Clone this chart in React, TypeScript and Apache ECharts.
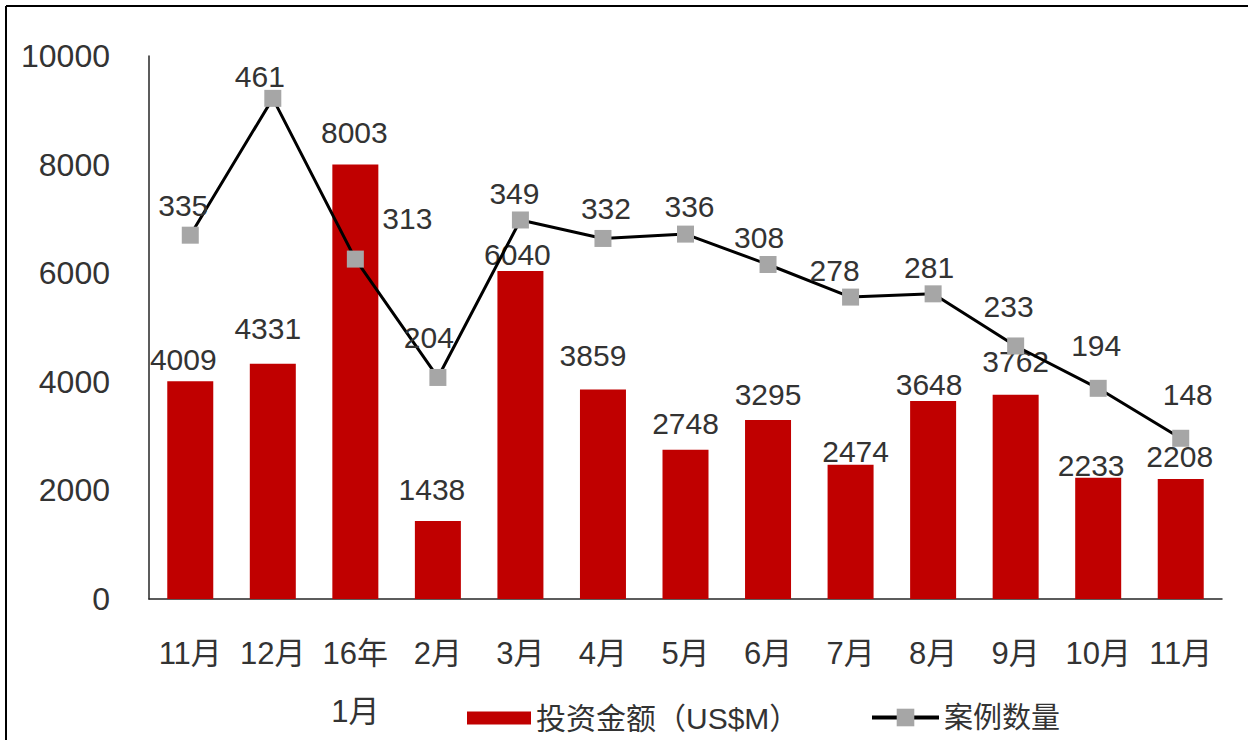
import React, { useEffect, useRef } from "react";
import * as echarts from "echarts";

const categories = ["11月", "12月", "16年\n1月", "2月", "3月", "4月", "5月", "6月", "7月", "8月", "9月", "10月", "11月"];
const investment = [4009, 4331, 8003, 1438, 6040, 3859, 2748, 3295, 2474, 3648, 3762, 2233, 2208];
const cases = [335, 461, 313, 204, 349, 332, 336, 308, 278, 281, 233, 194, 148];
const barName = "投资金额（US$M）";
const lineName = "案例数量";

// label nudges (label centre relative to bar top / marker centre), as placed in the original
const barLabelShift = [[-7, -22], [-5, -35], [-1, -32], [-6, -31], [-3, -17], [-10, -34], [0, -26], [0, -26], [5, -13], [-4, -16], [0, -33], [-7, -12], [-1, -23]];
const lineLabelShift = [[-7, -30], [-13, -22], [52, -41], [-9, -40], [-6, -27], [3, -30], [4, -28], [-9, -27], [-16, -27], [-4, -26], [-7, -39], [-2, -43], [7, -44]];

const FONT = '"Liberation Sans", Arial, "Noto Sans CJK SC", sans-serif';
const TEXT = "#333333";

export default function App() {
  const ref = useRef<HTMLDivElement>(null);
  useEffect(() => {
    const chart = echarts.init(ref.current!, null, { renderer: "svg" });
    const LABEL_FS = 30;
    const SYM = 17;
    chart.setOption({
      animation: false,
      backgroundColor: "#ffffff",
      textStyle: { fontFamily: FONT },
      grid: { left: 149, right: 26, top: 56, bottom: 139, containLabel: false },
      graphic: [
        { type: "line", shape: { x1: 6, y1: 6, x2: 1248, y2: 6 }, style: { stroke: "#000", lineWidth: 2 } },
        { type: "line", shape: { x1: 6, y1: 6, x2: 6, y2: 740 }, style: { stroke: "#000", lineWidth: 2 } },
      ],
      legend: [
        {
          data: [{ name: barName, icon: "rect" }],
          left: 462,
          top: 698,
          itemWidth: 64,
          itemHeight: 13,
          textStyle: { fontSize: 30, color: TEXT, fontFamily: FONT },
        },
        {
          data: [lineName],
          left: 865,
          top: 698,
          itemWidth: 67,
          itemHeight: 22,
          lineStyle: { width: 4, color: "#000000" },
          textStyle: { fontSize: 29, color: TEXT, fontFamily: FONT },
        },
      ],
      xAxis: {
        type: "category",
        data: categories,
        axisTick: { show: false },
        axisLine: { lineStyle: { color: "#262626", width: 1.5 } },
        axisLabel: {
          interval: 0,
          fontSize: 31,
          lineHeight: 58,
          margin: 25,
          color: TEXT,
          fontFamily: FONT,
        },
      },
      yAxis: [
        {
          type: "value",
          min: 0,
          max: 10000,
          interval: 2000,
          splitLine: { show: false },
          axisTick: { show: false },
          axisLine: { show: true, lineStyle: { color: "#262626", width: 1.5 } },
          axisLabel: {
            fontSize: 32,
            margin: 39,
            color: TEXT,
            fontFamily: FONT,
            formatter: (v: number) => String(v),
          },
        },
        {
          type: "value",
          min: 0,
          max: 500,
          show: false,
          splitLine: { show: false },
        },
      ],
      series: [
        {
          name: barName,
          type: "bar",
          yAxisIndex: 0,
          barWidth: 46,
          itemStyle: { color: "#C00000" },
          data: investment.map((v, i) => ({
            value: v,
            label: { offset: [barLabelShift[i][0], barLabelShift[i][1] + LABEL_FS / 2] },
          })),
          label: {
            show: true,
            position: "top",
            distance: 0,
            fontSize: LABEL_FS,
            color: TEXT,
            fontFamily: FONT,
          },
          z: 2,
        },
        {
          name: lineName,
          type: "line",
          yAxisIndex: 1,
          symbol: "rect",
          symbolSize: SYM,
          itemStyle: { color: "#A6A6A6" },
          lineStyle: { color: "#000000", width: 3 },
          data: cases.map((v, i) => ({
            value: v,
            label: { offset: [lineLabelShift[i][0], lineLabelShift[i][1] + SYM / 2 + LABEL_FS / 2] },
          })),
          label: {
            show: true,
            position: "top",
            distance: 0,
            fontSize: LABEL_FS,
            color: TEXT,
            fontFamily: FONT,
          },
          z: 5,
        },
      ],
    });
    return () => chart.dispose();
  }, []);
  return (
    <div
      ref={ref}
      style={{ position: "absolute", left: 0, top: 0, width: 1248, height: 740, background: "#fff" }}
    />
  );
}
